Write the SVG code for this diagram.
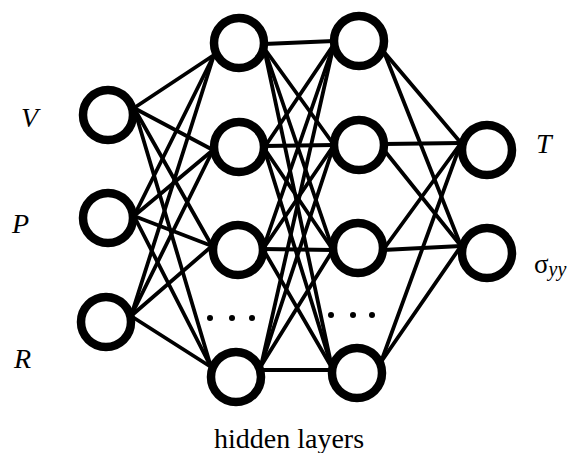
<svg xmlns="http://www.w3.org/2000/svg" width="571" height="453" viewBox="0 0 571 453">
<style>
.edge{stroke:#000;stroke-width:3.8;fill:none;stroke-linecap:round}
.node{fill:#fff;stroke:#000;stroke-width:8.5}
.dot{fill:#000}
text{font-family:Liberation Serif,DejaVu Serif,serif;fill:#000}
</style>
<rect width="571" height="453" fill="#fff"/>
<g id="connectors">
<line class="edge" x1="134" y1="108" x2="214" y2="55"/>
<line class="edge" x1="134" y1="108" x2="213" y2="150"/>
<line class="edge" x1="134" y1="108" x2="212" y2="246"/>
<line class="edge" x1="134" y1="108" x2="211" y2="367"/>
<line class="edge" x1="134" y1="216" x2="214" y2="55"/>
<line class="edge" x1="134" y1="216" x2="213" y2="150"/>
<line class="edge" x1="134" y1="216" x2="212" y2="246"/>
<line class="edge" x1="134" y1="216" x2="211" y2="367"/>
<line class="edge" x1="131" y1="316" x2="214" y2="55"/>
<line class="edge" x1="131" y1="316" x2="213" y2="150"/>
<line class="edge" x1="131" y1="316" x2="212" y2="246"/>
<line class="edge" x1="131" y1="316" x2="211" y2="367"/>
<line class="edge" x1="264" y1="44" x2="334" y2="41"/>
<line class="edge" x1="264" y1="48" x2="334" y2="145"/>
<line class="edge" x1="264" y1="48" x2="333" y2="250"/>
<line class="edge" x1="264" y1="48" x2="332" y2="368"/>
<line class="edge" x1="264" y1="148" x2="334" y2="44"/>
<line class="edge" x1="264" y1="146" x2="334" y2="145"/>
<line class="edge" x1="264" y1="148" x2="333" y2="250"/>
<line class="edge" x1="264" y1="148" x2="332" y2="368"/>
<line class="edge" x1="263" y1="249" x2="334" y2="44"/>
<line class="edge" x1="263" y1="249" x2="334" y2="145"/>
<line class="edge" x1="263" y1="249" x2="333" y2="250"/>
<line class="edge" x1="263" y1="249" x2="332" y2="368"/>
<line class="edge" x1="261" y1="366" x2="334" y2="44"/>
<line class="edge" x1="261" y1="366" x2="334" y2="145"/>
<line class="edge" x1="261" y1="366" x2="333" y2="250"/>
<line class="edge" x1="261" y1="370" x2="332" y2="370"/>
<line class="edge" x1="384" y1="52" x2="461" y2="143"/>
<line class="edge" x1="384" y1="52" x2="461" y2="246"/>
<line class="edge" x1="384" y1="144" x2="461" y2="143"/>
<line class="edge" x1="384" y1="150" x2="461" y2="246"/>
<line class="edge" x1="383" y1="250" x2="461" y2="143"/>
<line class="edge" x1="383" y1="250" x2="461" y2="246"/>
<line class="edge" x1="381" y1="362" x2="461" y2="143"/>
<line class="edge" x1="381" y1="362" x2="461" y2="246"/>
</g>
<g id="in-V"><circle class="node" cx="108" cy="115" r="25"/></g>
<g id="in-P"><circle class="node" cx="108" cy="218" r="25"/></g>
<g id="in-R"><circle class="node" cx="106" cy="322" r="25"/></g>
<g id="h1-1"><circle class="node" cx="239" cy="43" r="25"/></g>
<g id="h1-2"><circle class="node" cx="239" cy="147" r="25"/></g>
<g id="h1-3"><circle class="node" cx="238" cy="250" r="25"/></g>
<g id="h1-4"><circle class="node" cx="236" cy="377" r="25"/></g>
<g id="h1-dots"><circle class="dot" cx="210" cy="318" r="3"/><circle class="dot" cx="232" cy="318" r="3"/><circle class="dot" cx="252" cy="318" r="3"/></g>
<g id="h2-1"><circle class="node" cx="359" cy="41" r="25"/></g>
<g id="h2-2"><circle class="node" cx="359" cy="145" r="25"/></g>
<g id="h2-3"><circle class="node" cx="358" cy="248" r="25"/></g>
<g id="h2-4"><circle class="node" cx="357" cy="373" r="25"/></g>
<g id="h2-dots"><circle class="dot" cx="331" cy="315" r="3"/><circle class="dot" cx="353" cy="315" r="3"/><circle class="dot" cx="372" cy="315" r="3"/></g>
<g id="out-T"><circle class="node" cx="487" cy="150" r="25"/></g>
<g id="out-S"><circle class="node" cx="487" cy="253" r="25"/></g>
<g id="labels">
<text x="21" y="127" font-size="28" font-style="italic">V</text>
<text x="12" y="233" font-size="28" font-style="italic">P</text>
<text x="14" y="368" font-size="28" font-style="italic">R</text>
<text x="536" y="153" font-size="28" font-style="italic">T</text>
<text x="534" y="273" font-size="27">σ<tspan font-style="italic" font-size="20" dy="3">yy</tspan></text>
<text x="289" y="448" font-size="28" text-anchor="middle">hidden layers</text>
</g>
</svg>
